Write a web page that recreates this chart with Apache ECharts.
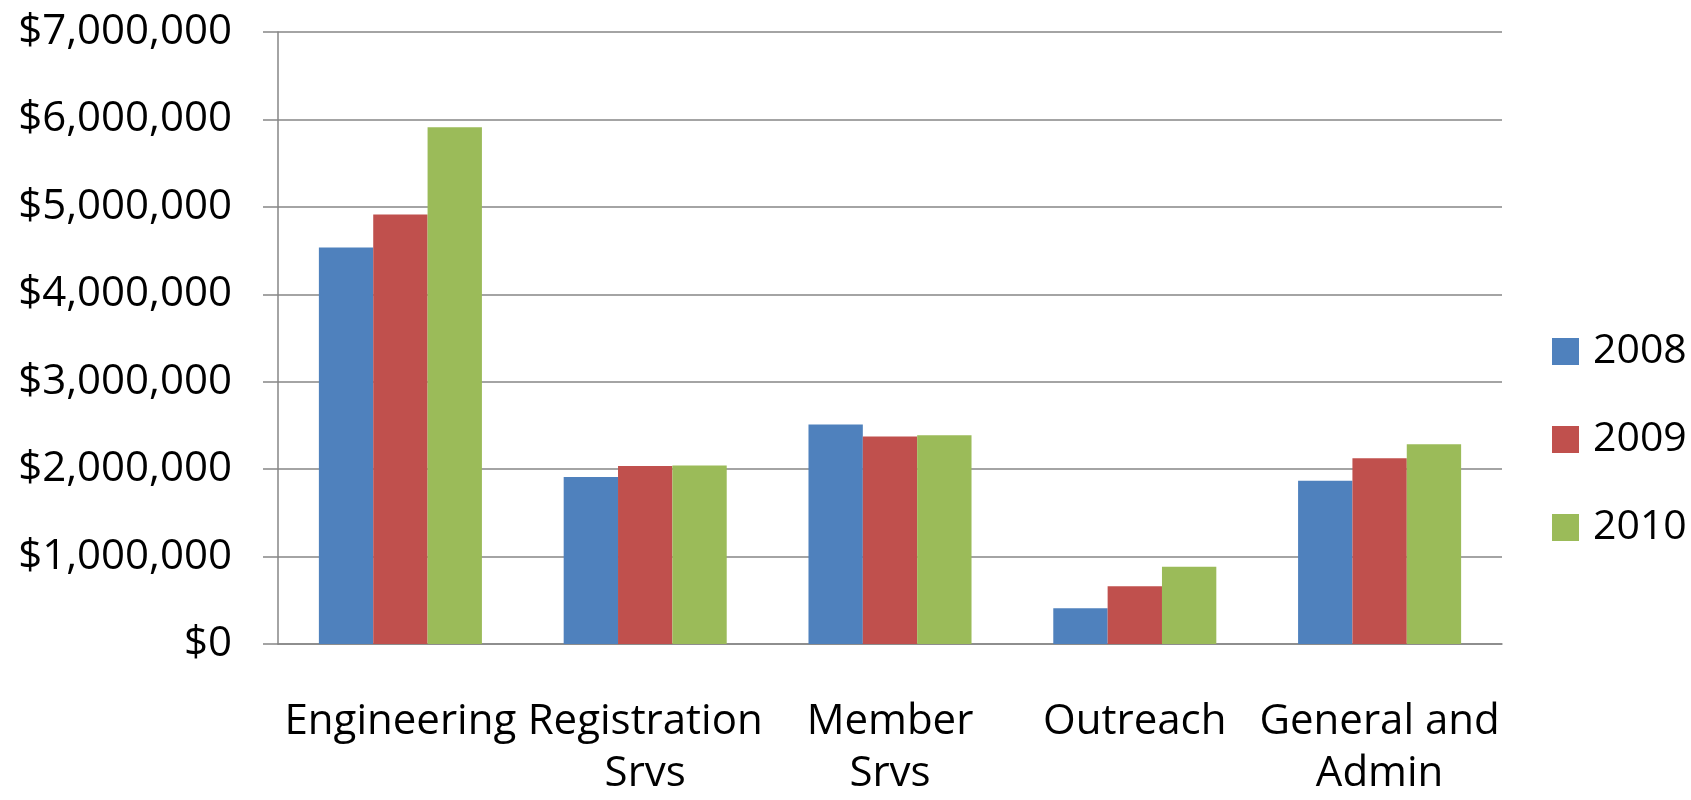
<!DOCTYPE html>
<html>
<head>
<meta charset="utf-8">
<script src="https://cdn.jsdelivr.net/npm/echarts@6/dist/echarts.min.js"></script>
<style>
  html, body { margin: 0; padding: 0; background: #fff; }
  #chart { width: 1691px; height: 800px; }
</style>
</head>
<body>
<div id="chart"></div>
<script>
const categories = ['Engineering', 'Registration\nSrvs', 'Member\nSrvs', 'Outreach', 'General and\nAdmin']
const years = ['2008', '2009', '2010']
const values2008 = [4535000, 1909000, 2512000, 410000, 1867000]
const values2009 = [4913000, 2037000, 2372000, 660000, 2125000]
const values2010 = [5911000, 2042000, 2387000, 884000, 2284000]
const colors = ['#4F81BD', '#C0504D', '#9BBB59']

const font = '"Open Sans", "Noto Sans", sans-serif'
const money = v => '$' + String(v).replace(/\B(?=(\d{3})+(?!\d))/g, ',')

const chart = echarts.init(document.getElementById('chart'))
chart.setOption({
  animation: false,
  textStyle: { fontFamily: font },
  grid: { left: 278, right: 189, top: 32, bottom: 153 },
  legend: {
    orient: 'vertical',
    left: 1547,
    top: 326,
    icon: 'rect',
    itemWidth: 27,
    itemHeight: 27,
    itemGap: 47,
    data: years,
    textStyle: { fontSize: 41, color: '#000', lineHeight: 27, padding: [0, 0, 0, 9], fontFamily: font }
  },
  xAxis: {
    type: 'category',
    data: categories,
    axisLine: { lineStyle: { color: '#868686', width: 1.5 } },
    axisTick: { length: 16, lineStyle: { color: '#868686', width: 1.5 } },
    axisLabel: {
      margin: 52,
      fontSize: 42,
      lineHeight: 52,
      color: '#000',
      fontFamily: font,
      interval: 0
    }
  },
  yAxis: {
    type: 'value',
    min: 0,
    max: 7000000,
    interval: 1000000,
    axisLine: { show: true, lineStyle: { color: '#868686', width: 1.5 } },
    axisTick: { show: true, length: 15, lineStyle: { color: '#868686', width: 1.5 } },
    splitLine: { lineStyle: { color: '#868686', width: 1.5 } },
    axisLabel: { margin: 46, fontSize: 42, color: '#000', fontFamily: font, formatter: money }
  },
  series: [values2008, values2009, values2010].map((d, i) => ({
    name: years[i],
    type: 'bar',
    data: d,
    barGap: '0%',
    barCategoryGap: '33.4%',
    itemStyle: { color: colors[i] }
  }))
})
</script>
</body>
</html>
